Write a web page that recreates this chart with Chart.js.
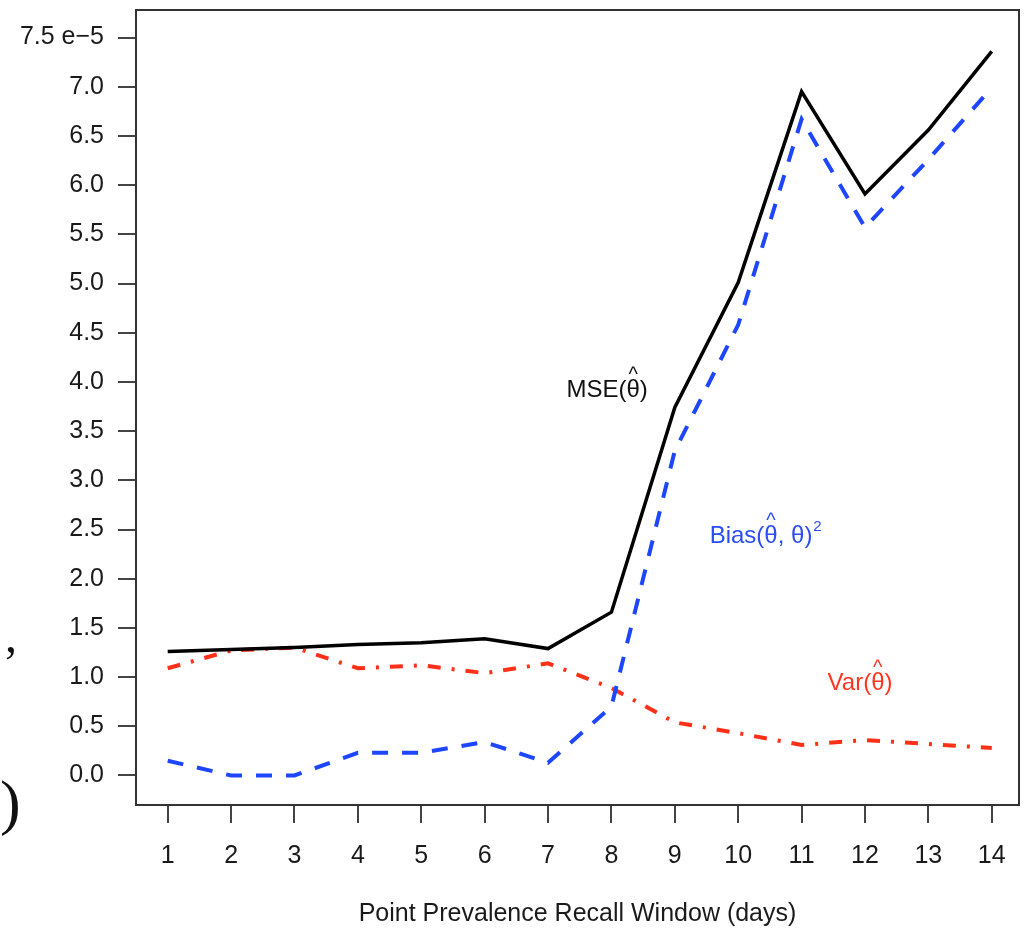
<!DOCTYPE html>
<html>
<head>
<meta charset="utf-8">
<script src="https://cdn.jsdelivr.net/npm/chart.js@4"></script>
<style>
  html, body { margin: 0; padding: 0; background: #fff; }
  #wrap { width: 1025px; height: 929px; }
</style>
</head>
<body>
<div id="wrap"><canvas id="c" width="1025" height="929"></canvas></div>
<script>
// recall window (days) and the three error curves, units of 1e-5
const days = [1, 2, 3, 4, 5, 6, 7, 8, 9, 10, 11, 12, 13, 14];
const mse  = [1.26, 1.28, 1.30, 1.33, 1.35, 1.39, 1.29, 1.66, 3.74, 5.01, 6.95, 5.91, 6.56, 7.36];
const bias = [0.15, 0.00, 0.00, 0.23, 0.23, 0.34, 0.13, 0.70, 3.30, 4.58, 6.67, 5.57, 6.26, 6.99];
const vari = [1.09, 1.27, 1.30, 1.09, 1.12, 1.04, 1.14, 0.89, 0.54, 0.43, 0.31, 0.36, 0.32, 0.28];

const yTicks = [0, 0.5, 1, 1.5, 2, 2.5, 3, 3.5, 4, 4.5, 5, 5.5, 6, 6.5, 7, 7.5];
const xTitle = "Point Prevalence Recall Window (days)";

// curve labels: [prefix, suffix, x, y, colour]
const curveLabels = [
  ["MSE(", ")", 7.29, 3.85, "#111"],
  ["Bias(", ", \u03b8)", 9.55, 2.36, "#2a4cf5"],
  ["Var(", ")", 11.41, 0.87, "#ff3520"],
];

const FONT = "'Liberation Sans', Arial, sans-serif";
const LBL = "24px " + FONT;
const pts = arr => days.map((d, i) => ({ x: d, y: arr[i] }));

const frame = {
  id: "frame",
  afterDraw(chart) {
    const { ctx, chartArea: a, scales: { x, y } } = chart;
    ctx.save();
    ctx.strokeStyle = "#333";
    ctx.lineWidth = 2;
    ctx.strokeRect(a.left, a.top, a.right - a.left, a.bottom - a.top);

    ctx.textBaseline = "alphabetic";
    curveLabels.forEach(([pre, post, vx, vy, col], k) => {
      let px = x.getPixelForValue(vx);
      const py = y.getPixelForValue(vy);
      ctx.font = LBL;
      ctx.fillStyle = col;
      ctx.textAlign = "left";
      ctx.fillText(pre, px, py);
      px += ctx.measureText(pre).width;
      const tw = ctx.measureText("\u03b8").width;
      ctx.fillText("\u03b8", px, py);
      // hat over theta
      ctx.font = "20px " + FONT;
      ctx.textAlign = "center";
      ctx.fillText("^", px + tw / 2, py - 16);
      ctx.font = LBL;
      ctx.textAlign = "left";
      px += tw;
      ctx.fillText(post, px, py);
      if (k === 1) {
        px += ctx.measureText(post).width;
        ctx.font = "15px " + FONT;
        ctx.fillText("2", px + 1, py - 12);
      }
    });

    // fragments of the neighbouring figure at the left edge
    ctx.fillStyle = "#111";
    ctx.textAlign = "left";
    ctx.font = "48px 'Liberation Serif', serif";
    ctx.fillText(",", 5, 652);
    ctx.font = "62px 'Liberation Serif', serif";
    ctx.fillText(")", 0, 823);
    ctx.restore();
  }
};

new Chart(document.getElementById("c"), {
  type: "line",
  data: {
    datasets: [
      { data: pts(mse), borderColor: "#000", borderWidth: 3.5, pointRadius: 0, tension: 0 },
      { data: pts(bias), borderColor: "#1e46ff", borderWidth: 4, borderDash: [16, 14], pointRadius: 0, tension: 0 },
      { data: pts(vari), borderColor: "#ff3018", borderWidth: 4, borderDash: [13, 11, 3, 11], pointRadius: 0, tension: 0 },
    ],
  },
  options: {
    responsive: false,
    animation: false,
    layout: { padding: { top: 10, right: 6, left: 0, bottom: 0 } },
    plugins: { legend: { display: false }, tooltip: { enabled: false } },
    scales: {
      x: {
        type: "linear",
        min: 0.5,
        max: 14.43,
        afterBuildTicks: s => { s.ticks = days.map(v => ({ value: v })); },
        afterFit: s => { s.height = 124; },
        grid: { drawOnChartArea: false, drawTicks: true, tickLength: 18, color: "#444", lineWidth: 2 },
        border: { display: true, color: "#333", width: 2 },
        ticks: { color: "#1a1a1a", font: { family: FONT, size: 25 }, padding: 18, maxRotation: 0 },
        title: { display: true, text: xTitle, color: "#1a1a1a", font: { family: FONT, size: 25 }, padding: { top: 0, bottom: 0 } },
      },
      y: {
        type: "linear",
        min: -0.3,
        max: 7.78,
        afterBuildTicks: s => { s.ticks = yTicks.map(v => ({ value: v })); },
        afterFit: s => { s.width = 136; s.paddingTop = 0; s.paddingBottom = 0; },
        grid: { drawOnChartArea: false, drawTicks: true, tickLength: 18, color: "#444", lineWidth: 2 },
        border: { display: true, color: "#333", width: 2 },
        ticks: {
          color: "#1a1a1a",
          font: { family: FONT, size: 25 },
          padding: 14,
          callback: v => v === 7.5 ? "7.5 e\u22125" : v.toFixed(1),
        },
      },
    },
  },
  plugins: [frame],
});
</script>
</body>
</html>
